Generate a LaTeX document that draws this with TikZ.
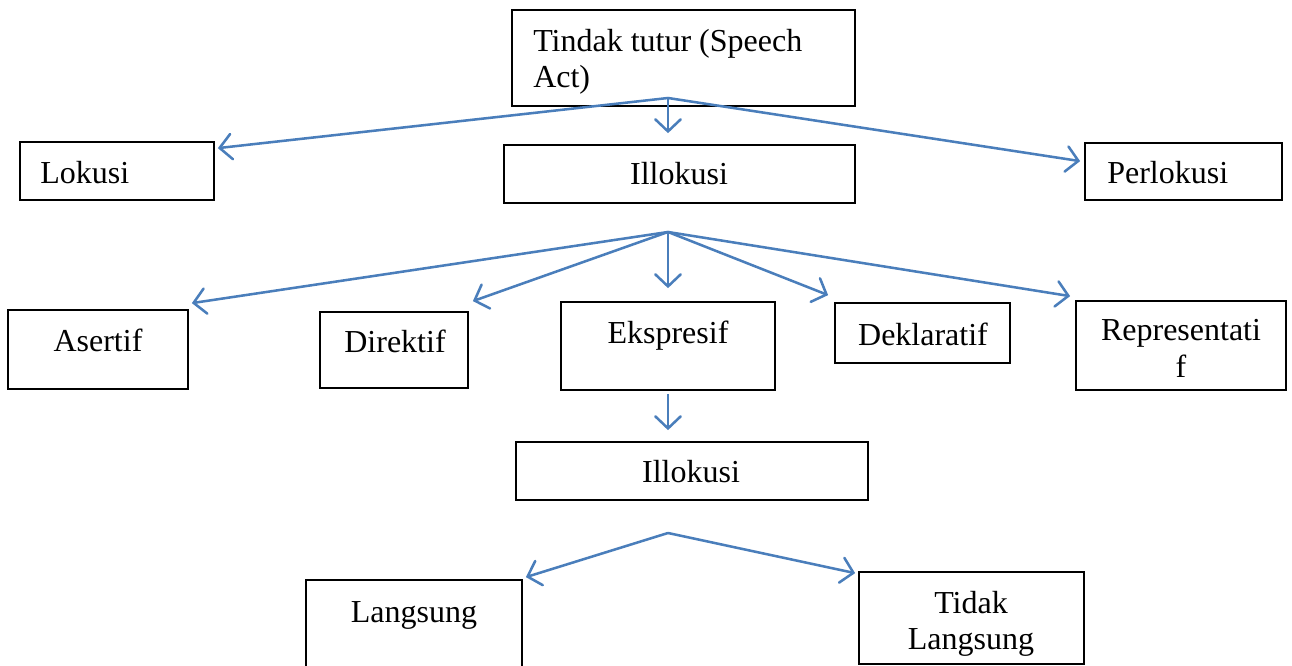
\documentclass[tikz,border=0pt]{standalone}
\usepackage{fontspec}
\setmainfont{Liberation Serif}
\usetikzlibrary{arrows.meta,fit,calc}
\definecolor{lineblue}{HTML}{4A7EBB}
\begin{document}
\begin{tikzpicture}[x=0.75pt,y=-0.75pt,
  box/.style={draw=black,line width=1.3pt,inner sep=0pt},
  txt/.style={inner sep=0pt,anchor=base,font=\fontsize{24}{27}\selectfont},
  arr/.style={draw=lineblue,line width=1.9pt,-{Straight Barb[length=9pt,width=19pt,line cap=round]}}]
\useasboundingbox (0,0) rectangle (1292,666);
% boxes
\node[box,fit={(512,10) (855,106)}] (tt) {};
\node[box,fit={(20,142) (214,200)}] (lok) {};
\node[box,fit={(504,145) (855,203)}] (ill) {};
\node[box,fit={(1085,143) (1282,200)}] (per) {};
\node[box,fit={(8,310) (188,389)}] (as) {};
\node[box,fit={(320,312) (468,388)}] (dir) {};
\node[box,fit={(561,302) (775,390)}] (eks) {};
\node[box,fit={(835,303) (1010,363)}] (dek) {};
\node[box,fit={(1076,301) (1286,390)}] (rep) {};
\node[box,fit={(516,442) (868,500)}] (illb) {};
\node[box,fit={(306,580) (522,700)}] (lang) {};
\node[box,fit={(859,572) (1084,664)}] (tid) {};
% texts
\node[txt,anchor=base west] (ttA) at (533,52) {Tindak tutur (Speech};
\node[txt,anchor=base west] (ttB) at (533,88) {Act)};
\node[txt,anchor=base west] (lokT) at (40,184) {Lokusi};
\node[txt] (illT) at (679,185) {Illokusi};
\node[txt,anchor=base west] (perT) at (1107,184) {Perlokusi};
\node[txt] (asT) at (98,352) {Asertif};
\node[txt] (dirT) at (395,353) {Direktif};
\node[txt] (eksT) at (668,344) {Ekspresif};
\node[txt] (dekT) at (923,346) {Deklaratif};
\node[txt] (repA) at (1181,341) {Representati};
\node[txt] (repB) at (1181,378) {f};
\node[txt] (illbT) at (691,482) {Illokusi};
\node[txt] (langT) at (414,622) {Langsung};
\node[txt] (tidA) at (971,613) {Tidak};
\node[txt] (tidB) at (971,649) {Langsung};
% hubs
\coordinate (h1) at (668,98);
\coordinate (h2) at (668,232);
\coordinate (h3) at (668,533);
% connectors level 1
\draw[arr] (h1) -- ($(lok.north east)+(3,7)$);
\draw[arr] (h1) -- ($(h1 |- ill.north)+(0,-11)$);
\draw[arr] (h1) -- ($(per.north west)+(-4,19)$);
% level 2
\draw[arr] (h2) -- ($(as.north east)+(3,-6)$);
\draw[arr] (h2) -- ($(dir.north east)+(4,-10)$);
\draw[arr] (h2) -- ($(h2 |- eks.north)+(0,-13)$);
\draw[arr] (h2) -- ($(dek.north west)+(-6,-7)$);
\draw[arr] (h2) -- ($(rep.north west)+(-5,-4)$);
% down
\draw[arr] ($(h2 |- eks.south)+(0,3)$) -- ($(h2 |- illb.north)+(0,-11)$);
% level 3
\draw[arr] (h3) -- ($(lang.north east)+(3,-2)$);
\draw[arr] (h3) -- ($(tid.north west)+(-3,2)$);
\end{tikzpicture}
\end{document}
